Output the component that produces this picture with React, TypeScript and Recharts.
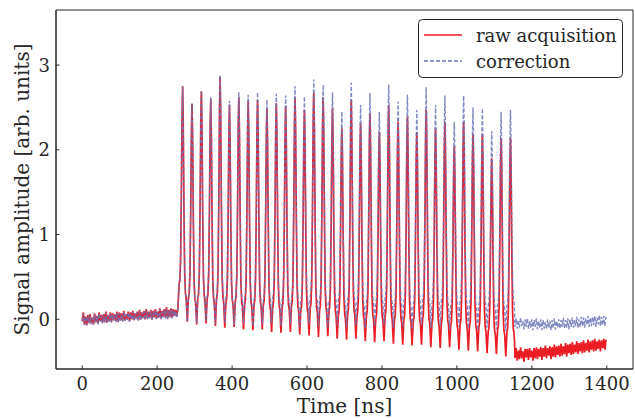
import { LineChart, Line, XAxis, YAxis, Legend, Label, ReferenceArea } from 'recharts';

const INK = '#262626';
const FONT = '"DejaVu Serif", serif';
const RED = '#ec1c24';
const BLUE = '#6b74b8';

// baseline before the pulse train, one sample every 3 ns from 0 ns
const rawPre = [
  -0.02, 0.08, -0.06, 0.03, -0.07, 0.05, -0.04, 0.06, -0.05, 0.02,
  -0.06, 0.07, -0.03, 0.04, -0.05, 0.08, -0.02, 0.05, -0.04, 0.06,
  -0.03, 0.09, -0.04, 0.05, -0.02, 0.08, -0.03, 0.07, -0.01, 0.06,
  -0.02, 0.09, -0.03, 0.08, -0.01, 0.07, -0.02, 0.1, -0.01, 0.06,
  0.0, 0.09, -0.02, 0.08, 0.0, 0.1, -0.01, 0.07, 0.01, 0.09,
  -0.01, 0.11, 0.0, 0.08, 0.02, 0.1, 0.0, 0.12, 0.01, 0.09,
  0.02, 0.11, 0.0, 0.1, 0.03, 0.12, 0.01, 0.09, 0.02, 0.13,
  0.01, 0.1, 0.03, 0.12, 0.02, 0.14, 0.01, 0.11, 0.03, 0.13,
  0.02, 0.12, 0.04, 0.11, 0.03, 0.12,
];
const corrPre = [
  -0.03, 0.07, -0.07, 0.03, -0.07, 0.04, -0.05, 0.05, -0.06, 0.02,
  -0.06, 0.06, -0.04, 0.04, -0.06, 0.07, -0.03, 0.04, -0.05, 0.06,
  -0.04, 0.08, -0.04, 0.05, -0.03, 0.07, -0.04, 0.06, -0.02, 0.06,
  -0.03, 0.08, -0.04, 0.07, -0.02, 0.06, -0.03, 0.09, -0.02, 0.06,
  -0.01, 0.08, -0.03, 0.07, -0.01, 0.09, -0.02, 0.07, 0.0, 0.08,
  -0.02, 0.1, -0.01, 0.08, 0.01, 0.09, -0.01, 0.11, 0.0, 0.08,
  0.01, 0.1, -0.01, 0.09, 0.02, 0.11, 0.0, 0.09, 0.01, 0.12,
  0.0, 0.09, 0.02, 0.11, 0.01, 0.13, 0.0, 0.1, 0.02, 0.12,
  0.01, 0.11, 0.03, 0.1, 0.02, 0.11,
];

// baseline after the pulse train, one sample every 3 ns from 1155 ns
const rawPost = [
  -0.46, -0.34, -0.49, -0.37, -0.47, -0.33, -0.46, -0.38, -0.5, -0.35,
  -0.45, -0.35, -0.48, -0.34, -0.45, -0.37, -0.49, -0.34, -0.46, -0.33,
  -0.47, -0.35, -0.44, -0.33, -0.48, -0.34, -0.44, -0.31, -0.46, -0.34,
  -0.43, -0.32, -0.47, -0.33, -0.44, -0.3, -0.45, -0.32, -0.42, -0.31,
  -0.44, -0.29, -0.43, -0.32, -0.41, -0.28, -0.44, -0.3, -0.4, -0.29,
  -0.42, -0.27, -0.41, -0.3, -0.39, -0.26, -0.41, -0.28, -0.38, -0.27,
  -0.4, -0.25, -0.39, -0.28, -0.37, -0.24, -0.39, -0.26, -0.36, -0.25,
  -0.38, -0.23, -0.37, -0.26, -0.35, -0.24, -0.38, -0.25, -0.34, -0.23,
  -0.36, -0.24,
];
const corrPost = [
  -0.09, 0.01, -0.11, -0.01, -0.1, 0.02, -0.08, -0.02, -0.12, 0.0,
  -0.09, 0.01, -0.11, -0.02, -0.1, 0.0, -0.13, -0.01, -0.09, 0.01,
  -0.12, -0.02, -0.1, 0.0, -0.13, -0.01, -0.11, -0.03, -0.12, 0.0,
  -0.1, -0.02, -0.13, -0.01, -0.11, 0.01, -0.12, -0.02, -0.1, 0.0,
  -0.11, -0.01, -0.09, 0.02, -0.11, -0.01, -0.1, 0.01, -0.12, 0.0,
  -0.09, 0.02, -0.1, -0.01, -0.08, 0.03, -0.1, 0.0, -0.09, 0.03,
  -0.08, 0.02, -0.1, 0.01, -0.07, 0.04, -0.09, 0.02, -0.08, 0.03,
  -0.07, 0.04, -0.09, 0.02, -0.06, 0.05, -0.08, 0.03, -0.07, 0.04,
  -0.08, 0.03,
];

// pulse train
const pulseTimes = [
  268, 293, 318, 343, 368, 393, 418, 443, 468, 493, 518, 543,
  568, 593, 618, 643, 668, 693, 718, 743, 768, 793, 818, 843,
  868, 893, 918, 943, 968, 993, 1018, 1043, 1068, 1093, 1118, 1143,
];
const rawPeaks = [
  2.75, 2.54, 2.69, 2.6, 2.86, 2.53, 2.62, 2.58, 2.59, 2.49, 2.55, 2.52,
  2.62, 2.47, 2.67, 2.62, 2.49, 2.25, 2.59, 2.31, 2.43, 2.21, 2.53, 2.33,
  2.39, 2.21, 2.47, 2.25, 2.33, 2.04, 2.33, 2.18, 2.18, 1.9, 2.14, 2.14,
];
const corrPeaks = [
  2.75, 2.55, 2.7, 2.62, 2.88, 2.58, 2.68, 2.65, 2.68, 2.59, 2.66, 2.64,
  2.75, 2.63, 2.83, 2.77, 2.68, 2.45, 2.79, 2.53, 2.67, 2.45, 2.77, 2.57,
  2.65, 2.47, 2.74, 2.53, 2.64, 2.33, 2.64, 2.5, 2.49, 2.22, 2.45, 2.47,
];
// minimum reached after each pulse
const rawDips = [
  -0.03, -0.06, -0.05, -0.08, -0.1, -0.09, -0.12, -0.13, -0.12, -0.15, -0.16, -0.15,
  -0.18, -0.19, -0.21, -0.2, -0.23, -0.24, -0.23, -0.26, -0.27, -0.26, -0.29, -0.3,
  -0.31, -0.3, -0.33, -0.34, -0.33, -0.36, -0.37, -0.38, -0.4, -0.41, -0.44, -0.42,
];
const corrDips = [
  -0.03, -0.05, -0.02, -0.06, -0.04, -0.07, -0.05, -0.08, -0.06, -0.04, -0.08, -0.06,
  -0.09, -0.05, -0.08, -0.1, -0.06, -0.09, -0.07, -0.11, -0.08, -0.06, -0.1, -0.09,
  -0.12, -0.07, -0.1, -0.08, -0.12, -0.09, -0.11, -0.13, -0.1, -0.12, -0.14, -0.05,
];
// single pulse shape around its peak (ns offset, fraction of dip-to-peak)
const shapeOffsets = [-11, -9.5, -7.5, -5.5, -3.5, -1.5, 0, 1.5, 3.5, 5.5, 7.5, 9.5, 11];
const shapeLevels = [0.06, 0.11, 0.13, 0.22, 0.5, 0.88, 1, 0.86, 0.48, 0.2, 0.12, 0.1, 0.05];

const xTicks = [0, 200, 400, 600, 800, 1000, 1200, 1400];
const yTicks = [0, 1, 2, 3];

type Pt = { t: number; v: number };

function buildSeries(pre: number[], peaks: number[], dips: number[], post: number[]): Pt[] {
  const pts: Pt[] = pre.map((v, i) => ({ t: i * 3, v }));
  pulseTimes.forEach((tp, k) => {
    const before = k === 0 ? pre[pre.length - 1] : dips[k - 1];
    const after = dips[k];
    shapeOffsets.forEach((off, j) => {
      const d = off < 0 ? before : after;
      pts.push({ t: tp + off, v: d + (peaks[k] - d) * shapeLevels[j] });
    });
    if (k < pulseTimes.length - 1) pts.push({ t: tp + 12.5, v: after });
  });
  post.forEach((v, i) => pts.push({ t: 1155 + i * 3, v }));
  return pts;
}

const rawSeries = buildSeries(rawPre, rawPeaks, rawDips, rawPost);
const corrSeries = buildSeries(corrPre, corrPeaks, corrDips, corrPost);

const XTick = (props: any) => {
  const { x, y, payload } = props;
  return (
    <g>
      <line x1={x} x2={x} y1={y} y2={y - 3.5} stroke={INK} strokeWidth={1} />
      <text x={x} y={y + 21} textAnchor="middle" fill={INK} fontSize={18} fontFamily={FONT}>
        {payload.value}
      </text>
    </g>
  );
};

const YTick = (props: any) => {
  const { x, y, payload } = props;
  return (
    <g>
      <line x1={x} x2={x + 3.5} y1={y} y2={y} stroke={INK} strokeWidth={1} />
      <text x={x - 6} y={y + 6.5} textAnchor="end" fill={INK} fontSize={18} fontFamily={FONT}>
        {payload.value}
      </text>
    </g>
  );
};

const LegendBox = () => (
  <svg width={206} height={60} style={{ display: 'block' }}>
    <rect x={0.5} y={0.5} width={204} height={58} rx={4} fill="#fff" stroke={INK} strokeWidth={1} />
    <line x1={6} x2={44} y1={16} y2={16} stroke={RED} strokeWidth={1.5} />
    <text x={58} y={22.5} fill={INK} fontSize={18} fontFamily={FONT}>raw acquisition</text>
    <line x1={6} x2={44} y1={42} y2={42} stroke={BLUE} strokeWidth={1.5} strokeDasharray="4 2" />
    <text x={58} y={48.5} fill={INK} fontSize={18} fontFamily={FONT}>correction</text>
  </svg>
);

export default function App() {
  return (
    <div style={{ position: 'absolute', left: 0, top: 0, width: 635, height: 418, background: '#fff' }}>
      <LineChart width={635} height={418} margin={{ top: 10, right: 2, bottom: 19, left: 16 }}>
        <XAxis
          type="number"
          dataKey="t"
          domain={[-70, 1470]}
          ticks={xTicks}
          allowDataOverflow
          height={30}
          tickSize={0}
          tickMargin={0}
          tick={<XTick />}
          axisLine={{ stroke: INK }}
        >
          <Label
            content={() => (
              <text x={344.5} y={413} textAnchor="middle" fill={INK} fontSize={20} fontFamily={FONT}>
                Time [ns]
              </text>
            )}
          />
        </XAxis>
        <YAxis
          type="number"
          dataKey="v"
          domain={[-0.587, 3.65]}
          ticks={yTicks}
          allowDataOverflow
          width={40}
          tickSize={0}
          tickMargin={0}
          tick={<YTick />}
          axisLine={{ stroke: INK }}
        >
          <Label
            content={() => (
              <text
                transform="translate(29,189.5) rotate(-90)"
                textAnchor="middle"
                fill={INK}
                fontSize={20}
                fontFamily={FONT}
              >
                Signal amplitude [arb. units]
              </text>
            )}
          />
        </YAxis>
        <Line
          data={rawSeries}
          dataKey="v"
          name="raw acquisition"
          type="linear"
          stroke={RED}
          strokeWidth={1.7}
          dot={false}
          activeDot={false}
          isAnimationActive={false}
        />
        <Line
          data={corrSeries}
          dataKey="v"
          name="correction"
          type="linear"
          stroke={BLUE}
          strokeWidth={1.4}
          strokeOpacity={0.85}
          strokeDasharray="4 2"
          dot={false}
          activeDot={false}
          isAnimationActive={false}
        />
        <ReferenceArea x1={-70} x2={1470} y1={-0.587} y2={3.65} fill="none" stroke={INK} strokeWidth={1} />
        <Legend
          verticalAlign="middle"
          align="center"
          layout="vertical"
          wrapperStyle={{ top: 19, left: 418, width: 206 }}
          content={() => <LegendBox />}
        />
      </LineChart>
    </div>
  );
}
